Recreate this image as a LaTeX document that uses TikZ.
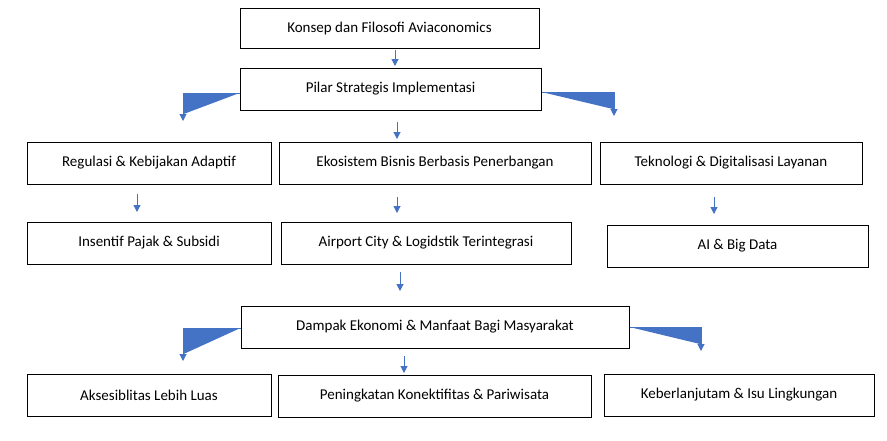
\documentclass[tikz,border=0pt]{standalone}
\usepackage{fontspec}
\setmainfont{Carlito}
\usetikzlibrary{positioning,arrows.meta}
\definecolor{boxline}{HTML}{000000}
\definecolor{arrowblue}{HTML}{4472C4}

\begin{document}
\begin{tikzpicture}[x=1pt,y=-1pt,
box/.style={rectangle, draw=boxline, line width=1pt, minimum height=42pt, inner sep=0pt, font=\fontsize{15}{18}\selectfont},
flow/.style={-{Triangle[length=7pt,width=7pt]}, draw=arrowblue, fill=arrowblue, line width=1pt},
]
\useasboundingbox (0,0) rectangle (887,440);
%Nodes
%%% Atas
\node[box, minimum width=299pt, minimum height=40pt] (konsep) at (389.5,28) {Konsep dan Filosofi Aviaconomics};
\node[box, minimum width=301pt] (pilar) at (390.5,89) {Pilar Strategis Implementasi};

%%% Baris pilar
\node[box, minimum width=244pt] (regulasi) at (149,163) {Regulasi \& Kebijakan Adaptif};
\node[box, minimum width=312pt] (ekosistem) at (435,163) {Ekosistem Bisnis Berbasis Penerbangan};
\node[box, minimum width=262pt] (teknologi) at (731,163) {Teknologi \& Digitalisasi Layanan};

%%% Baris program
\node[box, minimum width=244pt] (insentif) at (149,243) {Insentif Pajak \& Subsidi};
\node[box, minimum width=290pt] (airport) at (426,243) {Airport City \& Logidstik Terintegrasi};
\node[box, minimum width=261pt] (aibig) at (737.5,246) {AI \& Big Data};

%%% Dampak
\node[box, minimum width=388pt] (dampak) at (435,327) {Dampak Ekonomi \& Manfaat Bagi Masyarakat};

%%% Baris hasil
\node[box, minimum width=244pt] (akses) at (149,395) {Aksesiblitas Lebih Luas};
\node[box, minimum width=313pt] (konek) at (434.5,396) {Peningkatan Konektifitas \& Pariwisata};
\node[box, minimum width=270pt] (lanjut) at (739,395) {Keberlanjutam \& Isu Lingkungan};

%%% Ujung panah
\coordinate (a1) at (395,50);  \coordinate (b1) at (395,66);
\coordinate (a2) at (397,122); \coordinate (b2) at (397,139);
\coordinate (a3) at (137,194); \coordinate (b3) at (137,212);
\coordinate (a4) at (397,197); \coordinate (b4) at (397,213);
\coordinate (a5) at (714,197); \coordinate (b5) at (714,214);
\coordinate (a6) at (400,272); \coordinate (b6) at (400,291);
\coordinate (a7) at (404,356); \coordinate (b7) at (404,373);
\coordinate (pl) at (183,121); \coordinate (pr) at (614,116);
\coordinate (dl) at (183,361); \coordinate (dr) at (701,351);

%Lines
%%% Lurus
\draw[flow] (a1) -- (b1);
\draw[flow] (a2) -- (b2);
\draw[flow] (a3) -- (b3);
\draw[flow] (a4) -- (b4);
\draw[flow] (a5) -- (b5);
\draw[flow] (a6) -- (b6);
\draw[flow] (a7) -- (b7);

%%% Siku
\draw[flow] (pilar.west |- 0,93) -| (pl);
\draw[flow] (pilar.east |- 0,92) -| (pr);
\draw[flow] (dampak.west |- 0,328) -| (dl);
\draw[flow] (dampak.east |- 0,327) -| (dr);

\end{tikzpicture}
\end{document}
